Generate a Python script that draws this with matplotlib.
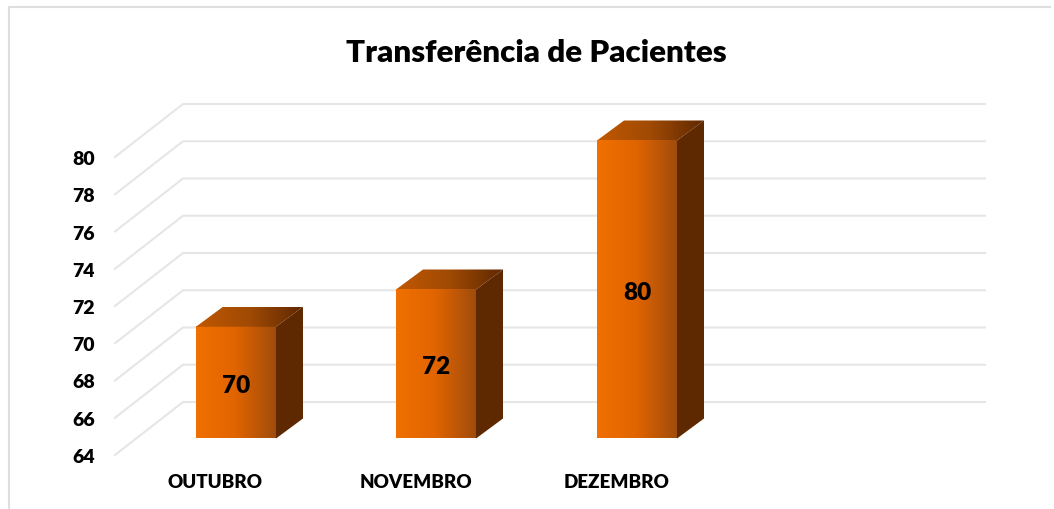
import numpy as np
import matplotlib
matplotlib.use("Agg")
import matplotlib.pyplot as plt
from matplotlib.patches import Polygon
from matplotlib.colors import LinearSegmentedColormap

months = ["OUTUBRO", "NOVEMBRO", "DEZEMBRO"]
values = [70, 72, 80]
y_ticks = [64, 66, 68, 70, 72, 74, 76, 78, 80]
title = "Transferência de Pacientes"

W, H = 1054, 509
plt.rcParams["font.family"] = ["Lato", "DejaVu Sans"]

fig = plt.figure(figsize=(W / 100, H / 100), dpi=100)

# x axis is in pixels from the left end of the floor, y axis is the chart value
left, right = 115, 985
front_top, front_bottom = 157, 455
ax = fig.add_axes([left / W, 1 - front_bottom / H, (right - left) / W, (front_bottom - front_top) / H], facecolor="none")
ax.set_xlim(0, right - left)
ax.set_ylim(64, 80)
ax.axis("off")
per_unit = (front_bottom - front_top) / 16.0

# only top and left edges of the frame are visible
fig.add_artist(plt.Line2D([9 / W, 9 / W, 1050 / W], [0, 1 - 7 / H, 1 - 7 / H], color="#dedede", lw=1.5))

fig.text(536 / W, 1 - 53 / H, title, ha="center", va="center", fontsize=22.5, fontweight="heavy", color="black")

# walls of the 3d box
dx, dy = 68, 53
for v in y_ticks:
    ax.plot([0, dx, right - left], [v, v + dy / per_unit, v + dy / per_unit],
            color="#e6e6e6", lw=1.5, clip_on=False, zorder=1)
    ax.text(-20, v - 2.5 / per_unit, str(v), ha="right", va="center", fontsize=14, fontweight="heavy", color="black", clip_on=False)

front_cmap = LinearSegmentedColormap.from_list("front", ["#f07000", "#e06400", "#a04c0c"])
top_cmap = LinearSegmentedColormap.from_list("top", ["#c05800", "#a04a04", "#602800"])
grad = np.linspace(0, 1, 128).reshape(1, -1)

base_x = [81, 281, 482]
bar_w = 80
ddx, ddy = 27, 20
lift = 16.5 / per_unit
y0 = 64 + lift

for x, v, m in zip(base_x, values, months):
    top = v + lift
    depth = ddy / per_unit
    ax.imshow(grad, extent=[x, x + bar_w, y0, top], cmap=front_cmap, aspect="auto", zorder=3, clip_on=False)
    ax.add_patch(Polygon([(x + bar_w, y0), (x + bar_w + ddx, y0 + depth),
                          (x + bar_w + ddx, top + depth), (x + bar_w, top)],
                         fc="#5e2800", ec="none", zorder=3, clip_on=False))
    # top face, gradient clipped to the parallelogram
    top_face = Polygon([(x, top), (x + ddx, top + depth), (x + bar_w + ddx, top + depth), (x + bar_w, top)],
                       fc="none", ec="none", transform=ax.transData)
    ax.add_patch(top_face)
    top_face.set_clip_on(False)
    im = ax.imshow(grad, extent=[x, x + bar_w + ddx, top, top + depth], cmap=top_cmap, aspect="auto", zorder=3)
    im.set_clip_path(top_face)
    im.set_clip_box(fig.bbox)
    ax.text(x + bar_w / 2, (y0 + top) / 2 - 3 / per_unit, str(v), ha="center", va="center", fontsize=17.5, fontweight="heavy", zorder=4)
    ax.text(x + bar_w / 2 - 20.5, 64 - 27 / per_unit, m, ha="center", va="center", fontsize=13.5, fontweight="heavy", clip_on=False)

ax.set_xlim(0, right - left)
ax.set_ylim(64, 80)

fig.savefig("out.png", dpi=100)
